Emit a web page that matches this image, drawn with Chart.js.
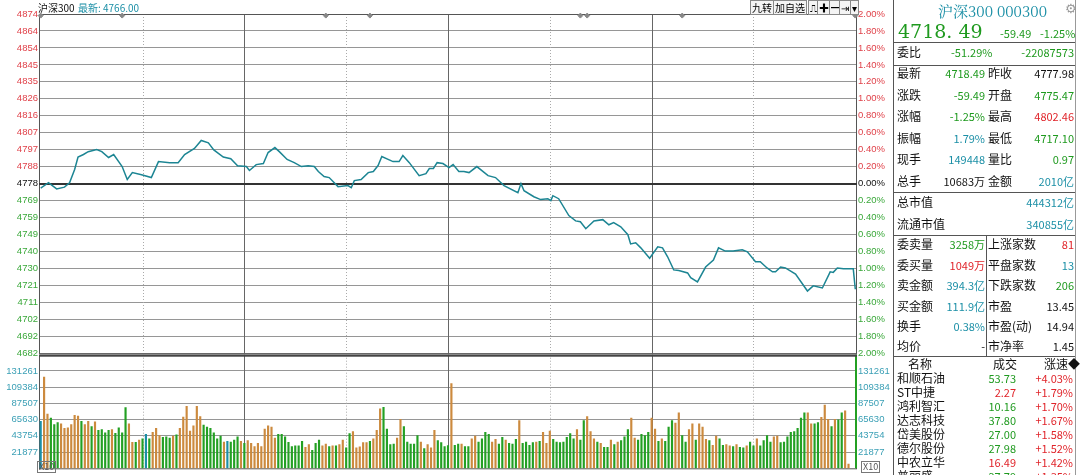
<!DOCTYPE html>
<html><head><meta charset="utf-8">
<script src="https://cdn.jsdelivr.net/npm/chart.js@4"></script>
<style>
body{margin:0;width:1080px;height:475px;background:#fff;overflow:hidden;font-family:"Noto Sans CJK SC","DejaVu Sans",sans-serif;position:relative}
#c1{position:absolute;left:0;top:0}
#c2{position:absolute;left:0;top:348px}
.t{position:absolute;font-size:11px;white-space:nowrap;line-height:12px}
.r{text-align:right}
.g{color:#1f9a1f}.rd{color:#e0242a}.tl{color:#1b8fa6}.k{color:#111}
.hl{position:absolute;left:893px;width:183px;height:1px;background:#555}
.btn{position:absolute;top:0;height:13px;border:1px solid #888;font-size:10px;line-height:13px;padding:0 1px;background:#f4f4f4}
</style></head><body>
<canvas id="c1" width="893" height="360"></canvas>
<canvas id="c2" width="893" height="127"></canvas>
<div id="side"></div>
<script>
const prevClose = 4777.98;
const priceTicks = ["4874","4864","4854","4845","4835","4826","4816","4807","4797","4788","4778","4769","4759","4749","4740","4730","4721","4711","4702","4692","4682"];
const pctTicks = ["2.00%","1.80%","1.60%","1.40%","1.20%","1.00%","0.80%","0.60%","0.40%","0.20%","0.00%","0.20%","0.40%","0.60%","0.80%","1.00%","1.20%","1.40%","1.60%","1.80%","2.00%"];
const volTicks = [21877,43754,65630,87507,109384,131261];
const priceMin = [0,2.3,4.7,7,8.5,10,11,12.6,14,16.5,18,20,21.5,24,25.5,27,29.7,32.6,34.7,38,40.5,42.4,45.3,47.3,49.4,51,53.8,56,58,60.6,61.5,63.5,65.6,67,69,70.3,72.6,74.7,76.8,78.8,80.6,81.8,83.5,85,87.6,90.5,91.5,92.4,94.4,96.5,98,99.4,100.5,103.8,105.6,106.7,108.6,111.5,113.5,114.5,115.7,116.8,118.5,120.3,121.5,123.2,124.7,126.2,128.5,131.8,134,136.5,140.6,141.5,142.4,145.3,147.3,149.4,150.3,150.9,152.6,155.6,157.6,159,160.6,163,165.6,167.4,168.8,170.9,173,173.8,175.3,176.8,179.4,181.8,183.2,184.7,186.5,188,190.6,191.5,193.5,195.9,198.2,199.7,201.7,204,206.7,208.2,210.6,212,214,215.6,216.5,218,219.4,222.4,225.9,227.6,230.3,232.6,233.5,234.7,236.5,239.4,240];
const priceVal = [4775.5,4778.5,4775,4776,4778.5,4786,4793,4794.4,4796,4797.2,4796,4792.7,4794.4,4787.6,4780.3,4784.2,4783,4781.4,4790.4,4789.8,4789.8,4794.4,4797.8,4802.3,4801,4797,4793,4792,4788,4787.6,4785.4,4788.7,4789.3,4795.5,4798.3,4796,4791.6,4789.8,4787.6,4788,4787.6,4784.8,4782,4781.4,4776.3,4776.9,4775.7,4779.7,4780.3,4784.2,4784.8,4788.2,4793.3,4790.4,4790.4,4793.8,4789.8,4782.5,4783.6,4786.5,4786.5,4789.8,4789.3,4787,4788.7,4784.8,4784.8,4784.2,4787.6,4782.5,4781.4,4776.9,4772.9,4778,4774,4770.6,4769,4769.5,4768.4,4771.2,4769.5,4760,4757,4756.5,4752.6,4757,4757.7,4754.8,4756,4753.7,4749.2,4744,4744.7,4741.8,4736,4742.4,4741.8,4736.8,4729.4,4729,4727.7,4725,4722.6,4731,4735,4741.8,4740,4740,4740.7,4739.6,4734,4734,4730.5,4728.3,4728.3,4731,4730.5,4727,4717.5,4720.4,4719.2,4728.3,4728,4730.5,4730,4730,4718.5];
const volK = [63.4,122.9,73.1,67.8,59.1,61.7,59.9,53.8,54.7,59.1,71.3,70.4,63.4,59.1,63.4,56.4,62.6,51.2,52.1,47.7,51.2,52.1,47.3,54.7,47.7,81.8,59.9,35.0,35.0,38.1,39.8,45.9,39.8,48.6,53.8,44.2,41.6,42.4,40.7,43.3,45.1,53.8,69.1,83.6,50.3,57.3,83.6,69.6,58.2,55.6,53.8,47.7,39.8,43.3,35.4,36.3,35.4,38.1,42.4,36.3,33.7,37.2,33.7,29.3,33.7,29.3,52.9,57.3,55.6,40.7,45.9,45.9,42.4,35.0,29.3,30.2,30.2,36.3,28.4,31.9,24.1,33.7,38.1,30.2,32.8,29.3,30.2,30.2,31.9,38.1,27.6,46.8,49.4,27.6,28.9,34.6,34.6,36.3,39.8,51.2,80.1,82.3,52.9,31.9,32.8,40.7,66.1,56.4,35.4,32.8,32.8,44.2,35.4,26.7,31.9,27.6,51.2,37.2,34.6,29.3,30.6,114.2,31.1,32.8,32.8,29.3,29.3,39.8,43.3,35.4,39.8,48.6,45.9,35.4,38.9,32.8,41.6,38.1,33.7,32.8,38.9,64.3,33.7,35.4,31.1,34.6,35.4,36.3,48.6,33.7,50.3,38.9,35.4,34.6,35.4,41.6,46.8,39.8,52.1,38.1,64.3,69.6,49.4,39.8,35.4,33.7,28.4,28.4,38.1,31.9,35.4,37.2,42.4,52.1,67.8,40.7,38.1,45.9,44.2,48.6,67.8,52.9,36.3,39.8,36.3,55.6,64.3,60.8,74.8,44.2,35.4,52.1,59.9,38.1,59.9,55.6,38.9,37.2,31.1,43.3,39.8,31.1,31.9,30.2,29.3,31.9,28.4,27.6,30.2,35.4,30.2,39.8,30.2,37.2,44.2,35.4,42.4,43.3,34.6,35.4,42.4,48.6,49.4,53.8,67.8,74.8,74.8,59.9,59.9,61.7,68.7,85.3,66.1,56.4,66.1,65.2,74.8,77.4,5.7];
const volDir = "toogggoooo"+"oogoogoggg"+"goggggoogo"+"gtgooogggo"+"gooooooogg"+"ggggotgggo"+"gooooooooo"+"ggggggggoo"+"gggoogogoo"+"ggooooogoo"+"oggggooggg"+"ggogoooggg"+"goggoggoog"+"gggooggogg"+"goggggogoo"+"ogggggggog"+"gooogoggog"+"ogggoogggg"+"oogogggoog"+"googooogoo"+"ggoogoggog"+"goggggoogg"+"ggggggoogg"+"ooogoggoo";
const markMin = [0,24,84,97,159,161,189,240];

const pmin = prevClose*0.98, pmax = prevClose*1.02;
const priceTickVals = priceTicks.map((_,i)=>pmax - i*(pmax-pmin)/20);
const volMax = 153138;
const dirColor = {o:'#cc8a3e', g:'#23a023', t:'#1b8fa6'};
const tickCol = i => i<10 ? '#e0424a' : (i===10 ? '#111' : '#3aa83a');
const font = {family:'"Liberation Sans",Arial,sans-serif', size:9.5};

function drawGrid(ch, nRows, rowFrac){
  const ctx = ch.ctx, a = ch.chartArea, x = ch.scales.x;
  ctx.save();
  ctx.globalAlpha = 1;
  ctx.setLineDash([]);
  for(let i=0;i<nRows;i++){
    const py = Math.floor(a.top + rowFrac(i)*(a.bottom-a.top)) + 0.5;
    ctx.strokeStyle = 'rgb(150,150,150)';
    ctx.lineWidth = 1;
    ctx.beginPath(); ctx.moveTo(a.left, py); ctx.lineTo(a.right, py); ctx.stroke();
  }
  for(let m=30;m<240;m+=30){
    const px = Math.round(x.getPixelForValue(m))+0.5;
    ctx.strokeStyle = (m%60===0)?'#666':'#aaa';
    ctx.setLineDash((m%60===0)?[]:[1,2]);
    ctx.beginPath();ctx.moveTo(px,a.top);ctx.lineTo(px,a.bottom);ctx.stroke();
  }
  ctx.setLineDash([]);
  ctx.strokeStyle='#555';
  ctx.strokeRect(a.left+0.5,a.top+0.5,a.right-a.left-1,a.bottom-a.top);
  ctx.restore();
}

const mkY = (pos, labels, w) => ({
  position:pos, min:pmin, max:pmax,
  afterBuildTicks(s){ s.ticks = priceTickVals.map(v=>({value:v})); },
  afterFit(s){ s.width = w; },
  ticks:{ autoSkip:false, padding:1, font, color:c=>tickCol(c.index), callback:(v,i)=>labels[i] },
  grid:{ display: pos==='left', drawOnChartArea:true, drawTicks:false, color:'#999999', lineWidth:1 },
  border:{display:false}
});

new Chart(document.getElementById('c1'), {
  data:{ datasets:[
    {type:'line', data:priceMin.map((m,i)=>({x:m,y:priceVal[i]})), borderColor:'#1c8593', borderWidth:1.5, pointRadius:0, tension:0, yAxisID:'y'},
    {type:'scatter', data:markMin.map(m=>({x:m,y:pmax-0.9})), pointStyle:'rectRot', pointRadius:2.5, backgroundColor:'#888', borderColor:'#888', yAxisID:'y'}
  ]},
  options:{ responsive:false, animation:false, clip:false,
    layout:{padding:{top:14,bottom:0,left:0,right:0}},
    plugins:{legend:{display:false}, tooltip:{enabled:false}},
    scales:{
      x:{type:'linear', min:-0.5, max:240.5, display:false},
      y:mkY('left', priceTicks, 39),
      y2:mkY('right', pctTicks, 36)
    }},
  plugins:[{id:'g1', beforeDatasetsDraw(ch){
    drawGrid(ch, 21, i=>i/20);
    const a=ch.chartArea, ctx=ch.ctx; const py=Math.round((a.top+a.bottom)/2);
    ctx.save(); ctx.fillStyle='#333'; ctx.fillRect(a.left,py-1,a.right-a.left,2); ctx.restore();
  }}]
});

const volY = pos => ({
  position:pos, min:0, max:volMax,
  afterBuildTicks(s){ s.ticks = volTicks.map(v=>({value:v})); },
  afterFit(s){ s.width = pos==='left'?39:36; },
  ticks:{ autoSkip:false, padding:1, font, color:'#3a9fb5', callback:v=>String(v) },
  grid:{ display: pos==='left', drawOnChartArea:true, drawTicks:false, color:'#999999', lineWidth:1 },
  border:{display:false}
});
new Chart(document.getElementById('c2'), {
  data:{ datasets:[
    {type:'bar', data:volK.map((v,i)=>({x:i,y:v*1000})), backgroundColor:volK.map((_,i)=>dirColor[volDir[i]]), barThickness:1.5, xAxisID:'x', yAxisID:'y'}
  ]},
  options:{ responsive:false, animation:false,
    layout:{padding:{top:6,bottom:4,left:0,right:0}},
    plugins:{legend:{display:false}, tooltip:{enabled:false}},
    scales:{
      x:{type:'linear', min:-0.5, max:240.5, offset:false, display:false},
      y:volY('left'), y2:volY('right')
    }},
  plugins:[{id:'g2', beforeDatasetsDraw(ch){ drawGrid(ch, 6, i=>1 - volTicks[i]/volMax); }},
   {id:'edge', afterDatasetsDraw(ch){
    const {ctx, chartArea:a} = ch; ctx.save();
    ctx.fillStyle='#23a023'; ctx.fillRect(a.right-2, a.top, 2, a.bottom-a.top);
    ctx.fillStyle='#444'; ctx.fillRect(a.left, a.top, a.right-a.left, 2);
    ctx.restore();
  }}]
});

const side = document.getElementById('side');
function put(cls,x,y,txt,style){const d=document.createElement('div');d.className=cls;d.style.left=x+'px';d.style.top=y+'px';d.textContent=txt;if(style)d.style.cssText+=style;side.appendChild(d);return d;}
put('t k',38,2,'沪深300','font-size:10px');put('t tl',78,2,'最新: 4766.00','font-size:10px');
[['九转',750],['加自选',773],['⎍',808],['✚',817],['━',829],['⇥',839],['▾',850]].forEach(b=>put('btn',b[1],0,b[0]));
put('t tl',938,2,'沪深300 000300','font-size:15px;line-height:17px;font-family:"Noto Serif CJK SC","DejaVu Serif",serif');
put('t',1065,2,'⚙','color:#999;font-size:13px');
put('t g',898,20,'4718. 49','font-size:19px;line-height:22px;font-family:"DejaVu Serif",serif');
put('t g',1000,27,'-59.49');put('t g',1040,27,'-1.25%');
[42,65,192,235,356].forEach(y=>{const d=document.createElement('div');d.className='hl';d.style.top=y+'px';side.appendChild(d);});
const vb=document.createElement('div');vb.style.cssText='position:absolute;left:893px;top:0;width:1px;height:475px;background:#555';side.appendChild(vb);
const vb2=document.createElement('div');vb2.style.cssText='position:absolute;left:1075px;top:0;width:1px;height:475px;background:#999';side.appendChild(vb2);
const vd=document.createElement('div');vd.style.cssText='position:absolute;left:986px;top:235px;width:1px;height:121px;background:#555';side.appendChild(vd);
function row(y,l1,v1,c1,l2,v2,c2){
  put('t k',897,y,l1,'font-size:12px');
  put('t r '+c1,0,y,v1,'width:80px;left:905px');
  if(l2){put('t k',988,y,l2,'font-size:12px');put('t r '+c2,0,y,v2,'width:80px;left:994px');}
}
put('t k',897,46,'委比','font-size:12px');put('t g',951,46,'-51.29%');put('t r g',0,46,'-22087573','width:100px;left:974px');
row(67,'最新','4718.49','g','昨收','4777.98','k');
row(89,'涨跌','-59.49','g','开盘','4775.47','g');
row(110,'涨幅','-1.25%','g','最高','4802.46','rd');
row(132,'振幅','1.79%','tl','最低','4717.10','g');
row(153,'现手','149448','tl','量比','0.97','g');
row(175,'总手','10683万','k','金额','2010亿','tl');
put('t k',897,196,'总市值','font-size:12px');put('t r tl',0,196,'444312亿','width:90px;left:984px');
put('t k',897,218,'流通市值','font-size:12px');put('t r tl',0,218,'340855亿','width:90px;left:984px');
row(238,'委卖量','3258万','g','上涨家数','81','rd');
row(259,'委买量','1049万','rd','平盘家数','13','tl');
row(279,'卖金额','394.3亿','tl','下跌家数','206','g');
row(300,'买金额','111.9亿','tl','市盈','13.45','k');
row(320,'换手','0.38%','tl','市盈(动)','14.94','k');
row(340,'均价','-','k','市净率','1.45','k');
put('t k',908,358,'名称','font-size:12px');put('t k',993,358,'成交','font-size:12px');put('t k',1044,358,'涨速◆','font-size:12px');
const stocks=[['和顺石油','53.73','g','+4.03%'],['ST中捷','2.27','rd','+1.79%'],['鸿利智汇','10.16','g','+1.70%'],['达志科技','37.80','g','+1.67%'],['岱美股份','27.00','g','+1.58%'],['德尔股份','27.98','g','+1.52%'],['中农立华','16.49','rd','+1.42%'],['普丽盛','27.79','g','+1.35%']];
stocks.forEach((s,i)=>{const y=372+i*14;put('t k',897,y,s[0],'font-size:12px');put('t r '+s[2],0,y,s[1],'width:60px;left:956px');put('t r rd',0,y,s[3],'width:60px;left:1013px');});
put('t k',37,461,'X10','border:1px solid #777;font-size:9px;line-height:10px;padding:0 1px;color:#555');
put('t k',861,461,'X10','border:1px solid #777;font-size:9px;line-height:10px;padding:0 1px;color:#555');
</script></body></html>
